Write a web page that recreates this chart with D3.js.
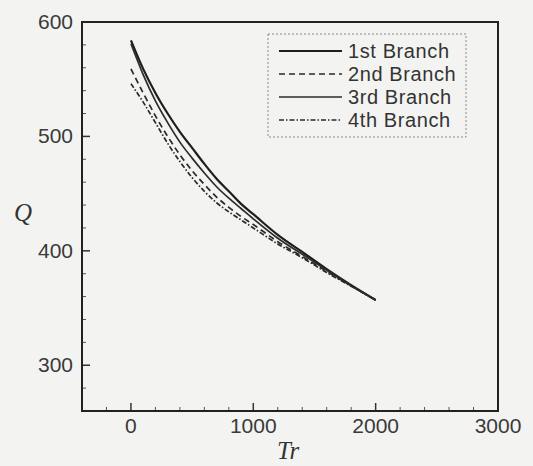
<!DOCTYPE html>
<html lang="en">
<head>
	<meta charset="UTF-8"/>
	<title>Q vs Tr branches</title>
	<script src="https://d3js.org/d3.v7.min.js"></script>
	<style>
		body { margin: 0; background: #f3f3f1; }
		svg { display: block; }
		.tick-label { font-family: "Liberation Sans", Arial, sans-serif; font-size: 21px; fill: #3a3a3a; }
		.legend-text { font-family: "Liberation Sans", Arial, sans-serif; font-size: 20px; fill: #333; letter-spacing: 0.6px; }
		.axis-title { font-family: "Liberation Serif", "DejaVu Serif", serif; font-style: italic; fill: #333; }
	</style>
</head>
<body>
<script>
	// Tr sample points shared by all branches
	var trValues = [0,100,200,300,400,500,600,700,800,900,1000,1200,1400,1600,1800,2000];

	var branch1 = [584,559,538,520,504,490,476,463,452,441,432,414,399,384,370,357];
	var branch2 = [559,538,518,500,484,470,458,447,438,430,423,408,395,382,369.5,357];
	var branch3 = [581,554,531,512,495,481,468,456,446,437,428,411,397,383,369.5,357];
	var branch4 = [546,530,512,494,478,464,452,442,434,427,420,406,394,381,369,357];

	var seriesNames = ["1st Branch","2nd Branch","3rd Branch","4th Branch"];

	var xTicks = [0,1000,2000,3000];
	var yTicks = [300,400,500,600];

	var w = 533;
	var h = 466;
	var pLeft = 82, pRight = 498, pTop = 22, pBottom = 411;

	var xScale = d3.scaleLinear().domain([-400,3000]).range([pLeft,pRight]);
	var yScale = d3.scaleLinear().domain([260,600]).range([pBottom,pTop]);

	var svg = d3.select("body").append("svg").attr("width",w).attr("height",h);

	// minor + major ticks, pointing inward
	var xMinor = d3.range(-200,3000,200).filter(function(v){ return xTicks.indexOf(v) < 0; });
	var yMinor = d3.range(280,600,20).filter(function(v){ return yTicks.indexOf(v) < 0; });

	svg.selectAll(".xminor").data(xMinor).enter().append("line")
		.attr("x1",function(d){ return xScale(d); })
		.attr("x2",function(d){ return xScale(d); })
		.attr("y1",pBottom).attr("y2",pBottom-4)
		.attr("stroke","#555").attr("stroke-width",1);

	svg.selectAll(".xmajor").data(xTicks).enter().append("line")
		.attr("x1",function(d){ return xScale(d); })
		.attr("x2",function(d){ return xScale(d); })
		.attr("y1",pBottom).attr("y2",pBottom-8)
		.attr("stroke","#333").attr("stroke-width",1.5);

	svg.selectAll(".yminor").data(yMinor).enter().append("line")
		.attr("x1",pLeft).attr("x2",pLeft+4)
		.attr("y1",function(d){ return yScale(d); })
		.attr("y2",function(d){ return yScale(d); })
		.attr("stroke","#555").attr("stroke-width",1);

	svg.selectAll(".ymajor").data(yTicks).enter().append("line")
		.attr("x1",pLeft).attr("x2",pLeft+8)
		.attr("y1",function(d){ return yScale(d); })
		.attr("y2",function(d){ return yScale(d); })
		.attr("stroke","#333").attr("stroke-width",1.5);

	// frame
	svg.append("rect")
		.attr("x",pLeft).attr("y",pTop)
		.attr("width",pRight-pLeft).attr("height",pBottom-pTop)
		.attr("fill","none").attr("stroke","#222").attr("stroke-width",2);

	// tick labels
	svg.selectAll(".xlab").data(xTicks).enter().append("text")
		.attr("class","tick-label")
		.attr("x",function(d){ return xScale(d); })
		.attr("y",pBottom+22)
		.attr("text-anchor","middle")
		.text(function(d){ return d; });

	svg.selectAll(".ylab").data(yTicks).enter().append("text")
		.attr("class","tick-label")
		.attr("x",pLeft-9)
		.attr("y",function(d){ return yScale(d)+7; })
		.attr("text-anchor","end")
		.text(function(d){ return d; });

	// axis titles
	svg.append("text").attr("class","axis-title")
		.attr("x",14).attr("y",221)
		.attr("font-size",25)
		.text("Q");

	svg.append("text").attr("class","axis-title")
		.attr("x",277).attr("y",459)
		.attr("font-size",25)
		.text("Tr");

	// curves
	var styles = [
		{dash:null, width:2.2, color:"#1e1e1e"},
		{dash:"6,4", width:1.7, color:"#2a2a2a"},
		{dash:null, width:1.7, color:"#2c2c2c"},
		{dash:"5,2,1.5,2", width:1.7, color:"#2a2a2a"}
	];
	var allBranches = [branch1,branch2,branch3,branch4];

	var line = d3.line()
		.x(function(d){ return xScale(d[0]); })
		.y(function(d){ return yScale(d[1]); })
		.curve(d3.curveMonotoneX);

	allBranches.forEach(function(b,i){
		var pts = trValues.map(function(t,j){ return [t,b[j]]; });
		svg.append("path")
			.attr("d",line(pts))
			.attr("fill","none")
			.attr("stroke",styles[i].color)
			.attr("stroke-width",styles[i].width)
			.attr("stroke-dasharray",styles[i].dash);
	});

	// legend
	var lg = svg.append("g");
	lg.append("rect")
		.attr("x",268).attr("y",34)
		.attr("width",198).attr("height",103)
		.attr("fill","none").attr("stroke","#888")
		.attr("stroke-width",1).attr("stroke-dasharray","2,2");

	var rowY = [51,74,97,120];
	seriesNames.forEach(function(name,i){
		lg.append("line")
			.attr("x1",279).attr("x2",342)
			.attr("y1",rowY[i]).attr("y2",rowY[i])
			.attr("stroke",styles[i].color)
			.attr("stroke-width",styles[i].width)
			.attr("stroke-dasharray",styles[i].dash);
		lg.append("text")
			.attr("class","legend-text")
			.attr("x",348).attr("y",rowY[i]+7)
			.text(name);
	});
</script>
</body>
</html>
